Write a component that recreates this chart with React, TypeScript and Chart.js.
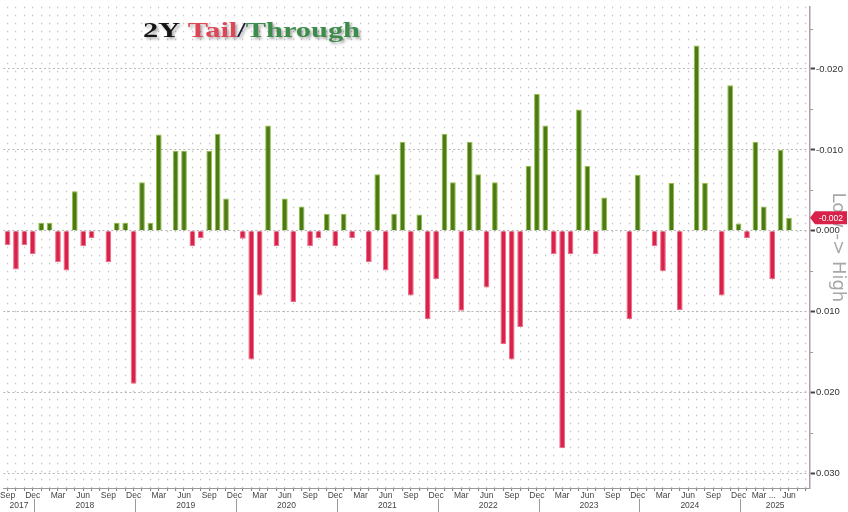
import React, { useEffect, useRef } from 'react';
import { Chart, registerables } from 'chart.js';

Chart.register(...registerables);

// ---------- data ----------
const monthNames = ['Jan', 'Feb', 'Mar', 'Apr', 'May', 'Jun', 'Jul', 'Aug', 'Sep', 'Oct', 'Nov', 'Dec'];
// monthly categories Sep 2017 .. Aug 2025 (last two months empty)
const monthLabels: string[] = Array.from({ length: 96 }, (_, i) => {
  const k = 8 + i;
  return `${monthNames[k % 12]} ${2017 + Math.floor(k / 12)}`;
});

// 2Y auction tail (+) / through (-), Sep 2017 .. Jun 2025
const tailValues: number[] = [
  0.0018, 0.0048, 0.0018, 0.0029, // 2017 Sep-Dec
  -0.001, -0.001, 0.0039, 0.0049, -0.0049, 0.0019, 0.0009, 0, 0.0039, -0.001, -0.001, 0.0189, // 2018
  -0.006, -0.001, -0.0119, 0, -0.0099, -0.0099, 0.0019, 0.0009, -0.0099, -0.012, -0.004, 0, // 2019
  0.001, 0.0159, 0.008, -0.013, 0.0019, -0.004, 0.0088, -0.003, 0.0019, 0.0009, -0.0021, 0.0019, // 2020
  -0.0021, 0.0009, 0, 0.0039, -0.007, 0.0049, -0.0021, -0.011, 0.008, -0.002, 0.0109, 0.006, // 2021
  -0.012, -0.006, 0.0099, -0.011, -0.007, 0.007, -0.006, 0.014, 0.0159, 0.0119, -0.008, -0.0169, // 2022
  -0.013, 0.0029, 0.0269, 0.0029, -0.015, -0.008, 0.0029, -0.0041, 0, 0, 0.0109, -0.0069, // 2023
  0, 0.0019, 0.005, -0.0059, 0.0098, 0, -0.0229, -0.0059, 0, 0.008, -0.018, -0.0009, // 2024
  0.0009, -0.011, -0.003, 0.006, -0.01, -0.0016, // 2025 Jan-Jun
];

const quarterMonths = ['Mar', 'Jun', 'Sep', 'Dec'];
const truncatedTick = 'Mar 2025';
const yearLabels = ['2017', '2018', '2019', '2020', '2021', '2022', '2023', '2024', '2025'];
const yMajorTicks = [-0.02, -0.01, 0, 0.01, 0.02, 0.03];
const yMinorTicks = [-0.025, -0.015, -0.005, 0.005, 0.015, 0.025];
const Y_MIN = -0.0277;
const Y_MAX = 0.0318;

const TITLE_PARTS = [
  { text: '2Y ', color: '#151515' },
  { text: 'Tail', color: '#dc4656' },
  { text: '/', color: '#1c1f3c' },
  { text: 'Through', color: '#3e8c4c' },
];

const RED = '#d9224a';
const RED_EDGE = '#ee6a86';
const GREEN = '#4b7b12';
const GREEN_EDGE = '#93bf45';

export default function App() {
  const ref = useRef<HTMLCanvasElement>(null);

  useEffect(() => {
    document.body.style.margin = '0';
    const canvas = ref.current;
    if (!canvas) return;

    const overlay = {
      id: 'overlay',
      afterDraw(chart: any) {
        const { ctx, chartArea } = chart;
        const x = chart.scales.x;
        const y = chart.scales.y;
        ctx.save();

        // minor ticks on right axis
        ctx.strokeStyle = '#9a9a9a';
        ctx.lineWidth = 1;
        for (const v of yMinorTicks) {
          const py = Math.round(y.getPixelForValue(v)) + 0.5;
          ctx.beginPath();
          ctx.moveTo(chartArea.right, py);
          ctx.lineTo(chartArea.right + 3, py);
          ctx.stroke();
        }

        // year separators + year labels
        const cw = x.getPixelForValue(1) - x.getPixelForValue(0);
        const seps: number[] = [];
        monthLabels.forEach((l, i) => {
          if (l.startsWith('Dec') && i < tailValues.length) seps.push(x.getPixelForValue(i) + 0.2 * cw);
        });
        ctx.strokeStyle = '#9a9a9a';
        ctx.lineWidth = 1;
        for (const s of seps) {
          const sx = Math.round(s) + 0.5;
          ctx.beginPath();
          ctx.moveTo(sx, 499);
          ctx.lineTo(sx, 512);
          ctx.stroke();
        }
        const bounds = [chartArea.left, ...seps, chartArea.right];
        ctx.fillStyle = '#444';
        ctx.font = '8.5px "Liberation Sans", Arial, sans-serif';
        ctx.textAlign = 'center';
        ctx.textBaseline = 'middle';
        yearLabels.forEach((yr, i) => {
          const cx = (bounds[i] + bounds[i + 1]) / 2;
          ctx.fillText(yr, cx, 506);
        });

        // last value tag
        const last = tailValues[tailValues.length - 1];
        const py = y.getPixelForValue(last);
        const x0 = chartArea.right;
        ctx.fillStyle = RED;
        ctx.beginPath();
        ctx.moveTo(x0, py);
        ctx.lineTo(x0 + 5, py - 6.5);
        ctx.lineTo(x0 + 37, py - 6.5);
        ctx.lineTo(x0 + 37, py + 6.5);
        ctx.lineTo(x0 + 5, py + 6.5);
        ctx.closePath();
        ctx.fill();
        ctx.fillStyle = '#ffffff';
        ctx.font = '8.5px "Liberation Sans", Arial, sans-serif';
        ctx.textAlign = 'center';
        ctx.fillText(last.toFixed(3), x0 + 21, py + 0.5);

        // chart title
        ctx.font = 'bold 22px "Liberation Serif", "Times New Roman", serif';
        ctx.textAlign = 'left';
        ctx.textBaseline = 'alphabetic';
        const full = TITLE_PARTS.map((p) => p.text).join('');
        const w = ctx.measureText(full).width;
        const targetW = 217;
        const sx = targetW / w;
        ctx.translate(143, 37);
        ctx.scale(sx, 1);
        ctx.shadowColor = 'rgba(0,0,0,0.35)';
        ctx.shadowBlur = 3;
        ctx.shadowOffsetX = 2;
        ctx.shadowOffsetY = 2;
        let cx = 0;
        for (const p of TITLE_PARTS) {
          ctx.fillStyle = p.color;
          ctx.fillText(p.text, cx, 0);
          cx += ctx.measureText(p.text).width;
        }
        ctx.restore();
      },
    };

    const chart = new Chart(canvas, {
      type: 'bar',
      data: {
        labels: monthLabels,
        datasets: [
          {
            data: tailValues,
            backgroundColor: tailValues.map((v) => (v > 0 ? RED : GREEN)),
            borderColor: tailValues.map((v) => (v > 0 ? RED_EDGE : GREEN_EDGE)),
            borderWidth: 1,
            categoryPercentage: 1,
            barPercentage: 0.68,
          },
        ],
      },
      options: {
        responsive: false,
        animation: false,
        layout: { padding: 0 },
        plugins: {
          legend: { display: false },
          tooltip: { enabled: false },
          title: { display: false },
        },
        scales: {
          x: {
            type: 'category',
            offset: true,
            afterFit: (s: any) => {
              s.height = 24;
            },
            grid: {
              offset: false,
              color: 'rgba(150,150,150,0.55)',
              lineWidth: 1.2,
              drawTicks: true,
              tickLength: 3,
              tickColor: '#777',
              tickWidth: 1,
              tickBorderDash: [],
            },
            border: { display: true, color: '#999', width: 1, dash: [1.5, 6.5] },
            ticks: {
              autoSkip: false,
              maxRotation: 0,
              minRotation: 0,
              padding: 0,
              color: '#444',
              font: { size: 8.5, family: '"Liberation Sans", Arial, sans-serif' },
              callback: (_v: any, i: number) => {
                const l = monthLabels[i];
                if (!l || i >= tailValues.length) return '';
                if (l === truncatedTick) return 'Mar ...';
                const m = l.split(' ')[0];
                return quarterMonths.includes(m) ? m : '';
              },
            },
          },
          y: {
            position: 'right',
            reverse: true,
            min: Y_MIN,
            max: Y_MAX,
            afterBuildTicks: (s: any) => {
              s.ticks = yMajorTicks.map((v) => ({ value: v }));
            },
            afterFit: (s: any) => {
              s.width = 38;
            },
            grid: {
              color: '#b5b5b5',
              lineWidth: 1,
              drawTicks: true,
              tickLength: 5,
              tickColor: '#444',
              tickWidth: 2,
              tickBorderDash: [],
            },
            border: { display: true, color: '#b09aac', width: 1.5, dash: [2, 2.5] },
            ticks: {
              padding: 1,
              color: '#333',
              font: { size: 9.5, family: '"Liberation Sans", Arial, sans-serif' },
              callback: (v: any) => Number(v).toFixed(3),
            },
            title: {
              display: true,
              text: 'Low -> High',
              color: '#a8a8a8',
              padding: 0,
              font: { size: 18, family: '"DejaVu Sans", sans-serif' },
            },
          },
        },
      },
      plugins: [overlay],
    } as any);

    return () => chart.destroy();
  }, []);

  return (
    <div style={{ width: 848, height: 512 }}>
      <canvas ref={ref} width={848} height={512} style={{ display: 'block', width: 848, height: 512 }} />
    </div>
  );
}
